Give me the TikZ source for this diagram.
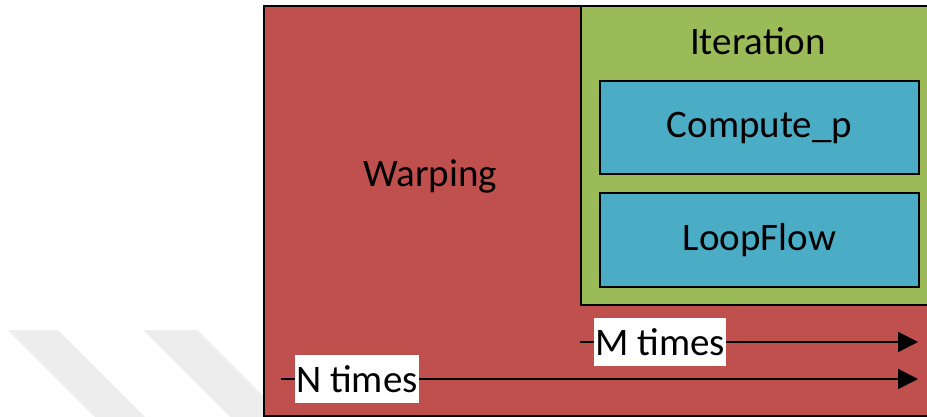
\documentclass[tikz,border=0pt]{standalone}
\usepackage{fontspec}
\setmainfont{Carlito}
\usetikzlibrary{arrows.meta}
\definecolor{warpred}{HTML}{C0504D}
\definecolor{itergreen}{HTML}{9BBB59}
\definecolor{boxblue}{HTML}{4BACC6}
\definecolor{wmgray}{HTML}{EDEDED}
\tikzset{
  box/.style={draw=black, line width=2pt, anchor=north west, inner sep=0pt},
  lbl/.style={font=\fontsize{39}{47}\selectfont, text=black},
  tag/.style={lbl, fill=white, inner sep=1pt, minimum height=48pt},
  arr/.style={draw=black, line width=2pt, -{Triangle[length=20pt,width=20pt]}},
}
\begin{document}
\begin{tikzpicture}[x=1pt,y=-1pt]
\useasboundingbox (0,0) rectangle (927,417);
\clip (0,0) rectangle (927,417);
% watermark stripes
\fill[wmgray] (8,330) -- (58,330) -- (145,417) -- (95,417) -- cycle;
\fill[wmgray] (143,330) -- (197,330) -- (263,396) -- (263,417) -- (230,417) -- cycle;
% boxes
\node[box, fill=warpred, minimum width=690pt, minimum height=410pt] (warp) at (263,5) {};
\node[box, fill=itergreen, minimum width=370pt, minimum height=299pt] (iter) at (580,5) {};
\node[box, fill=boxblue, minimum width=319pt, minimum height=93pt] (comp) at (599,80) {};
\node[box, fill=boxblue, minimum width=319pt, minimum height=94pt] (loop) at (599,192) {};
% texts
\node[lbl] (warpt) at (430,176) {Warping};
\node[lbl] (itert) at (758,41) {Iteration};
\node[lbl] (compt) at (comp.center) {Compute\_p};
\node[lbl] (loopt) at (loop.center) {LoopFlow};
% arrows
\coordinate (m0) at (580,342);
\coordinate (m1) at (918,342);
\coordinate (n0) at (281,379);
\coordinate (n1) at (918,379);
\draw[arr] (m0) -- (m1);
\draw[arr] (n0) -- (n1);
\node[tag] (mt) at (660,342) {M times};
\node[tag] (nt) at (357,379) {N times};
\end{tikzpicture}
\end{document}
